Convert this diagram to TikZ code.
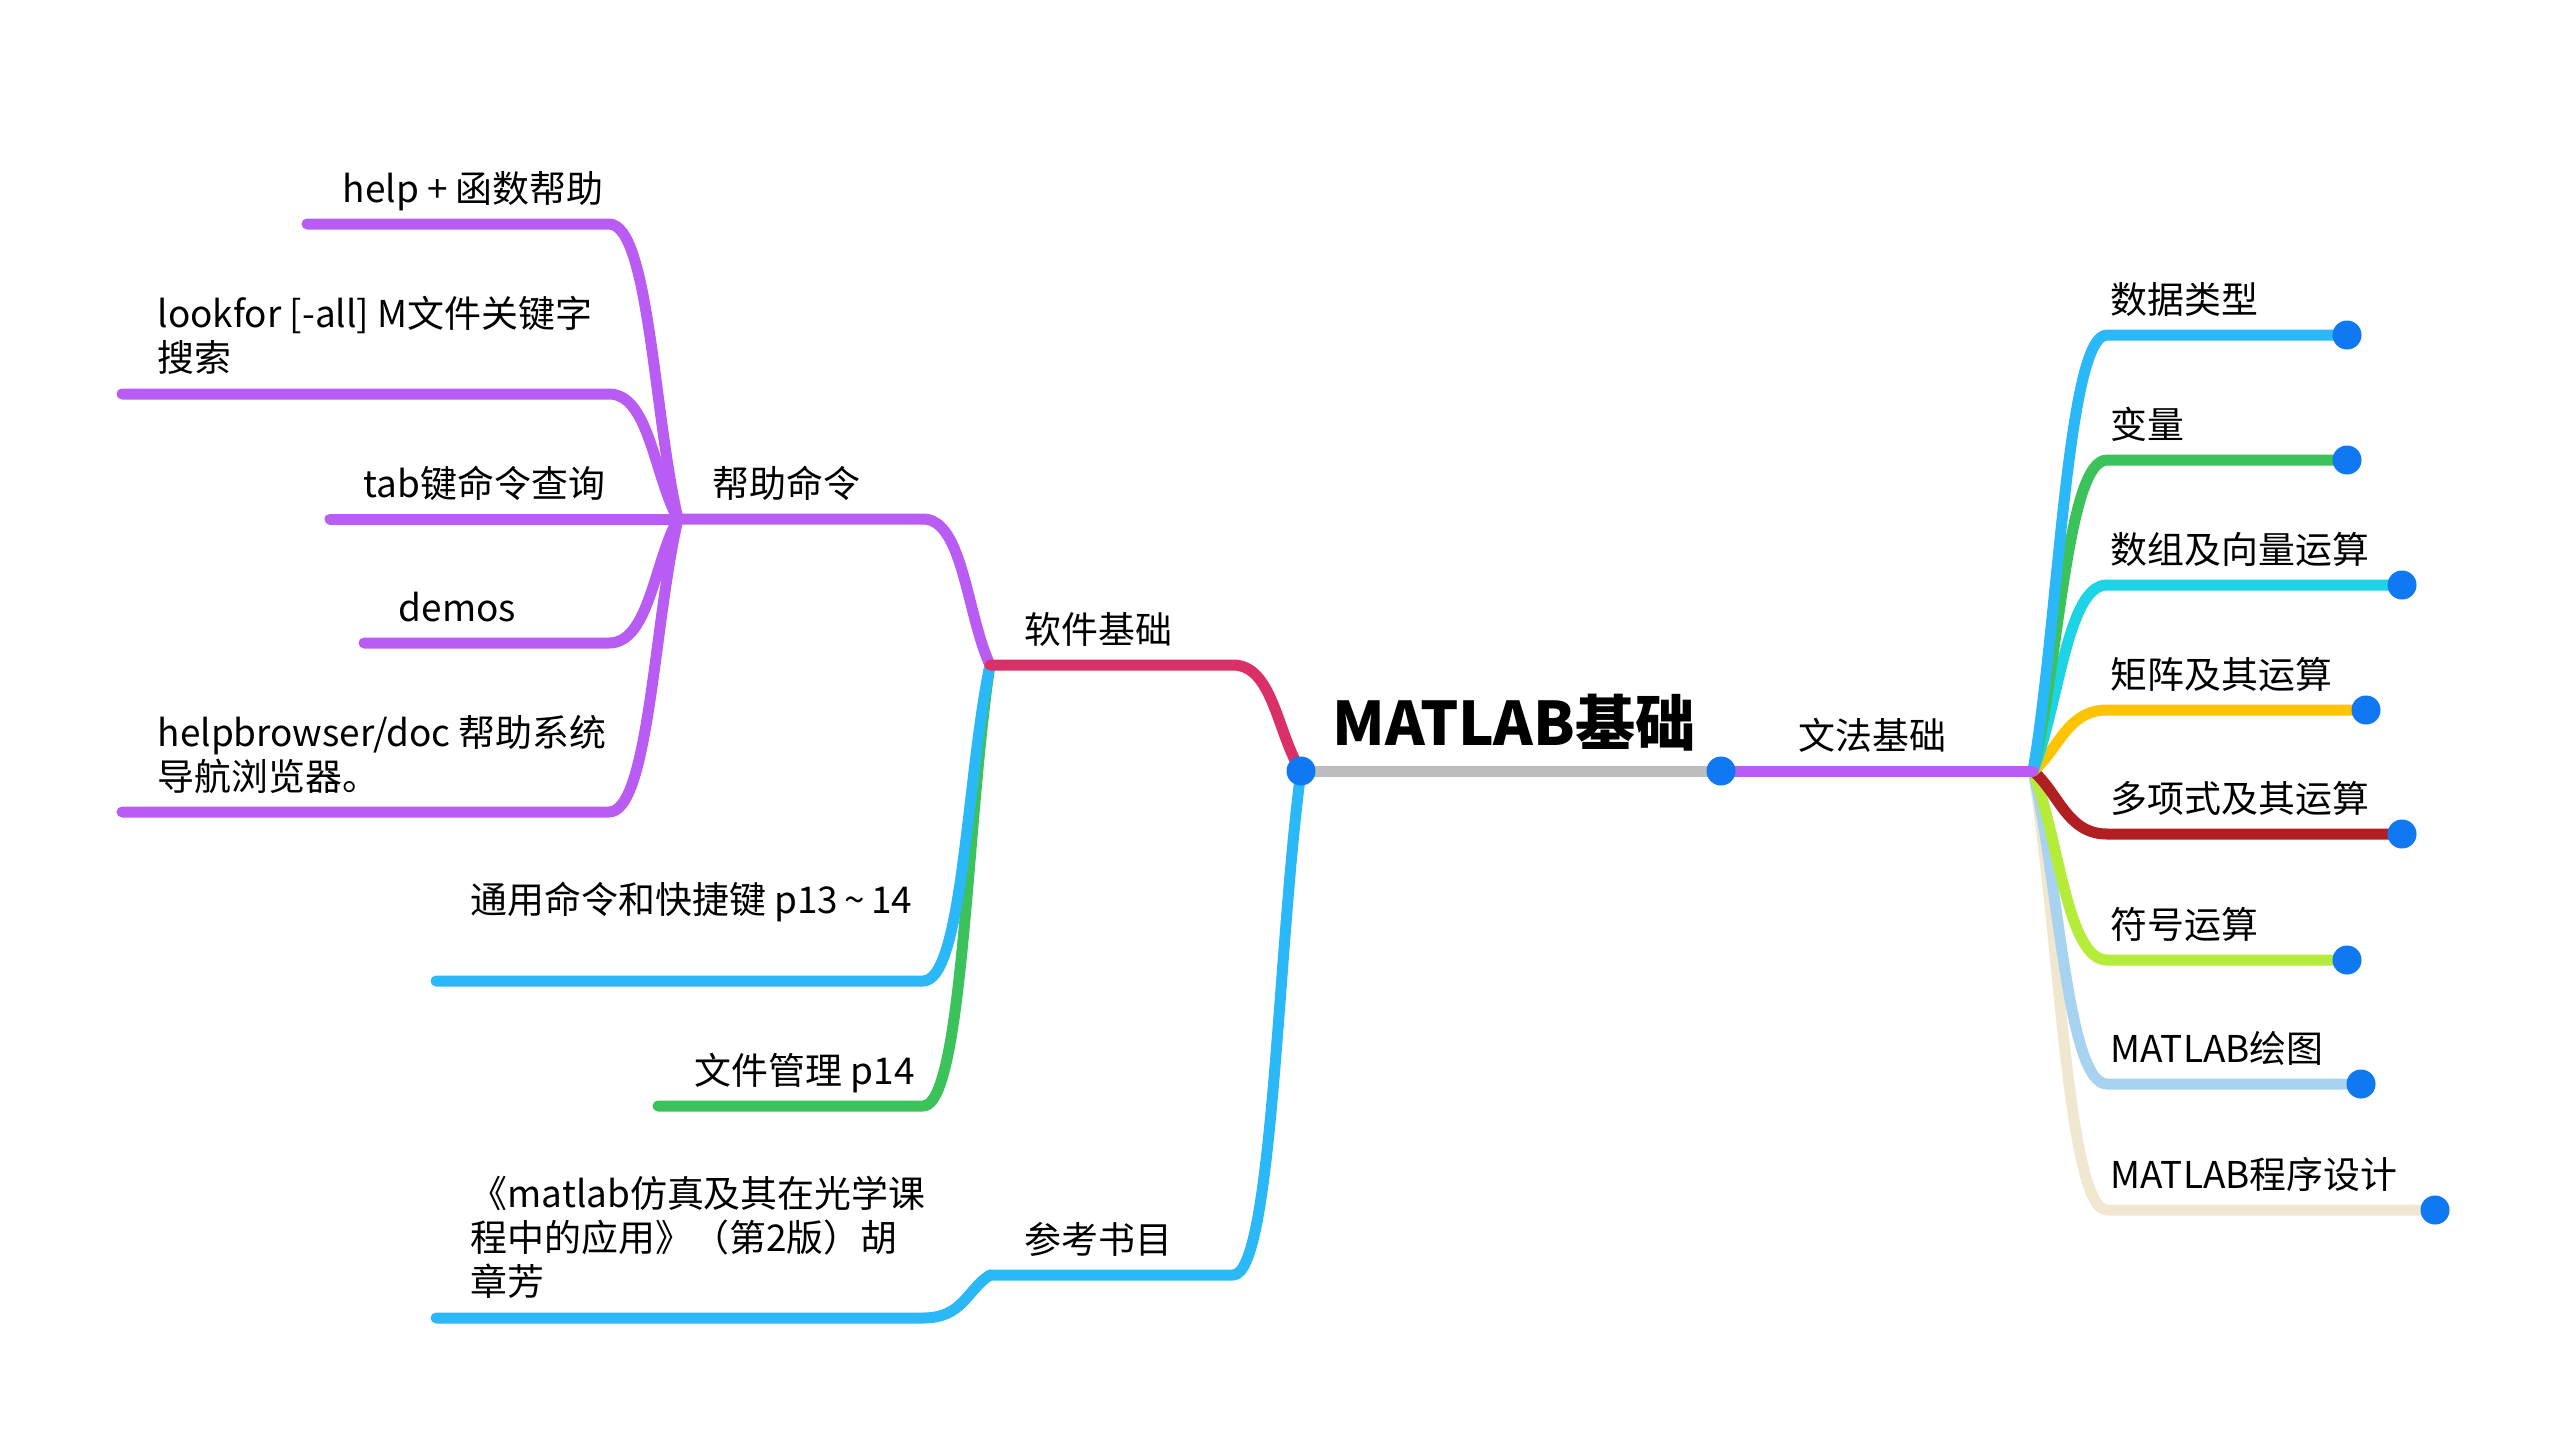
\documentclass[tikz,border=0pt]{standalone}
\usepackage{fontspec}
\setmainfont{Noto Sans CJK SC}
\usetikzlibrary{calc}
\definecolor{cPurple}{HTML}{B95CF4}
\definecolor{cPink}{HTML}{DA3068}
\definecolor{cBlue}{HTML}{2BB8F8}
\definecolor{cGreen}{HTML}{3CC25A}
\definecolor{cGray}{HTML}{BDBDBD}
\definecolor{cDot}{HTML}{0F78F2}
\definecolor{cCyan}{HTML}{1DD4E6}
\definecolor{cYellow}{HTML}{FFC400}
\definecolor{cDarkRed}{HTML}{B21F23}
\definecolor{cLime}{HTML}{B5EC3A}
\definecolor{cLightBlue}{HTML}{A8D3F0}
\definecolor{cBeige}{HTML}{EFE7CF}
\tikzset{
  branch/.style={line width=0.11cm, line cap=round, line join=round},
  dotnode/.style={circle, fill=cDot, inner sep=0pt, minimum size=0.29cm},
  lbl/.style={anchor=base west, inner sep=0pt, align=left, font=\fontsize{10.5}{12.5}\selectfont},
  title/.style={anchor=base west, inner sep=0pt, font=\fontsize{17.1}{20}\selectfont\bfseries},
}
\begin{document}
\begin{tikzpicture}[x=0.01cm, y=-0.01cm]
\useasboundingbox (0,0) rectangle (2560,1445);
\fill[white] (0,0) rectangle (2560,1445);

% ---- key points ----
\coordinate (root) at (1301,771);
\coordinate (grammar) at (1721,771);
\coordinate (gh) at (2033,771);
% left side
\coordinate (swC) at (1233,665);
\coordinate (swH) at (990,665);
\coordinate (helpC) at (923,519);
\coordinate (helpH) at (678,519);
\coordinate (genC) at (923,981);
\coordinate (genE) at (436,981);
\coordinate (fileC) at (923,1106);
\coordinate (fileE) at (658,1106);
\coordinate (refC) at (1233,1275);
\coordinate (refH) at (990,1275);
\coordinate (bookC) at (923,1318);
\coordinate (bookE) at (436,1318);
\coordinate (h1C) at (609,224);  \coordinate (h1E) at (307,224);
\coordinate (h2C) at (609,394);  \coordinate (h2E) at (122,394);
\coordinate (h3E) at (330,519);
\coordinate (h4C) at (609,643);  \coordinate (h4E) at (364,643);
\coordinate (h5C) at (609,812);  \coordinate (h5E) at (122,812);
% right side
\coordinate (r1C) at (2107,335);
\coordinate (r2C) at (2107,460);
\coordinate (r3C) at (2107,585);
\coordinate (r4C) at (2107,710);
\coordinate (r5C) at (2107,834);
\coordinate (r6C) at (2107,960);
\coordinate (r7C) at (2107,1084);
\coordinate (r8C) at (2107,1210);

% ---- right side branches ----
\draw[branch, cBeige] (gh) .. controls ($(gh)!0.35!(r8C)$) and ($(r8C)-(40,0)$) .. (r8C) -- (2435,1210) coordinate (r8E);
\draw[branch, cLightBlue] (gh) .. controls ($(gh)!0.35!(r7C)$) and ($(r7C)-(40,0)$) .. (r7C) -- (2361,1084) coordinate (r7E);
\draw[branch, cLime] (gh) .. controls ($(gh)!0.35!(r6C)$) and ($(r6C)-(40,0)$) .. (r6C) -- (2347,960) coordinate (r6E);
\draw[branch, cDarkRed] (gh) .. controls ($(gh)!0.35!(r5C)$) and ($(r5C)-(40,0)$) .. (r5C) -- (2402,834) coordinate (r5E);
\draw[branch, cYellow] (gh) .. controls ($(gh)!0.35!(r4C)$) and ($(r4C)-(40,0)$) .. (r4C) -- (2366,710) coordinate (r4E);
\draw[branch, cCyan] (gh) .. controls ($(gh)!0.35!(r3C)$) and ($(r3C)-(40,0)$) .. (r3C) -- (2402,585) coordinate (r3E);
\draw[branch, cGreen] (gh) .. controls ($(gh)!0.35!(r2C)$) and ($(r2C)-(40,0)$) .. (r2C) -- (2347,460) coordinate (r2E);
\draw[branch, cBlue] (gh) .. controls ($(gh)!0.35!(r1C)$) and ($(r1C)-(40,0)$) .. (r1C) -- (2347,335) coordinate (r1E);
\draw[branch, cPurple] (grammar) -- (gh);

% ---- left side: help commands ----
\draw[branch, cPurple] (helpH) .. controls ($(helpH)!0.35!(h1C)$) and ($(h1C)+(40,0)$) .. (h1C) -- (h1E);
\draw[branch, cPurple] (helpH) .. controls ($(helpH)!0.35!(h2C)$) and ($(h2C)+(40,0)$) .. (h2C) -- (h2E);
\draw[branch, cPurple] (helpH) -- (h3E);
\draw[branch, cPurple] (helpH) .. controls ($(helpH)!0.35!(h4C)$) and ($(h4C)+(40,0)$) .. (h4C) -- (h4E);
\draw[branch, cPurple] (helpH) .. controls ($(helpH)!0.35!(h5C)$) and ($(h5C)+(40,0)$) .. (h5C) -- (h5E);

% ---- software basics ----
\draw[branch, cGreen] (swH) .. controls ($(swH)!0.35!(fileC)$) and ($(fileC)+(40,0)$) .. (fileC) -- (fileE);
\draw[branch, cBlue] (swH) .. controls ($(swH)!0.35!(genC)$) and ($(genC)+(40,0)$) .. (genC) -- (genE);
\draw[branch, cPurple] (swH) .. controls ($(swH)!0.35!(helpC)$) and ($(helpC)+(40,0)$) .. (helpC) -- (helpH);
\draw[branch, cPink] (root) .. controls ($(root)!0.35!(swC)$) and ($(swC)+(40,0)$) .. (swC) -- (swH);

% ---- references ----
\draw[branch, cBlue] (refH) .. controls ($(refH)!0.35!(bookC)$) and ($(bookC)+(40,0)$) .. (bookC) -- (bookE);
\draw[branch, cBlue] (root) .. controls ($(root)!0.35!(refC)$) and ($(refC)+(40,0)$) .. (refC) -- (refH);

% ---- trunk ----
\draw[branch, cGray] (root) -- (grammar);

% ---- dots ----
\node[dotnode] (dRoot) at (root) {};
\node[dotnode] (dGrammar) at (grammar) {};
\node[dotnode] (d1) at (r1E) {};
\node[dotnode] (d2) at (r2E) {};
\node[dotnode] (d3) at (r3E) {};
\node[dotnode] (d4) at (r4E) {};
\node[dotnode] (d5) at (r5E) {};
\node[dotnode] (d6) at (r6E) {};
\node[dotnode] (d7) at (r7E) {};
\node[dotnode] (d8) at (r8E) {};

% ---- labels ----
\node[title] (tRoot) at (1332,745) {MATLAB基础};
\node[lbl] (tGrammar) at (1798,749) {文法基础};
\node[lbl] (tR1) at (2110,313) {数据类型};
\node[lbl] (tR2) at (2110,438) {变量};
\node[lbl] (tR3) at (2110,563) {数组及向量运算};
\node[lbl] (tR4) at (2110,688) {矩阵及其运算};
\node[lbl] (tR5) at (2110,812) {多项式及其运算};
\node[lbl] (tR6) at (2110,938) {符号运算};
\node[lbl] (tR7) at (2110,1062) {MATLAB绘图};
\node[lbl] (tR8) at (2110,1188) {MATLAB程序设计};

\node[lbl] (tSw) at (1024,643) {软件基础};
\node[lbl] (tHelp) at (712,497) {帮助命令};
\node[lbl] (tRef) at (1024,1253) {参考书目};
\node[lbl] (tGen) at (470,913) {通用命令和快捷键 p13\,\textasciitilde\,14};
\node[lbl] (tFile) at (694,1084) {文件管理 p14};
\node[lbl] (tBook) at (470,1295) {《matlab仿真及其在光学课\\程中的应用》（第2版）胡\\章芳};

\node[lbl] (tH1) at (342,202) {help + 函数帮助};
\node[lbl] (tH2) at (157,371) {lookfor [-all] M文件关键字\\搜索};
\node[lbl] (tH3) at (363,497) {tab键命令查询};
\node[lbl] (tH4) at (398,621) {demos};
\node[lbl] (tH5) at (157,790) {helpbrowser/doc 帮助系统\\导航浏览器。};
\end{tikzpicture}
\end{document}
